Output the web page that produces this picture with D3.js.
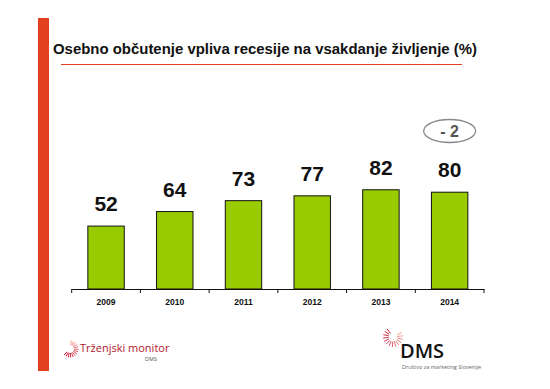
<!DOCTYPE html>
<html>
<head>
<meta charset="utf-8">
<script src="https://cdn.jsdelivr.net/npm/d3@7"></script>
<style>
  body { margin: 0; background: #fff; }
  svg { display: block; font-family: "Liberation Sans", Arial, sans-serif; }
</style>
</head>
<body>
<svg id="chart" width="550" height="389"></svg>
<script>
// data
const years = ["2009", "2010", "2011", "2012", "2013", "2014"];
const values = [52, 64, 73, 77, 82, 80];
const changeLabel = "- 2";
const title = "Osebno občutenje vpliva recesije na vsakdanje življenje (%)";

const svg = d3.select("#chart");

// red side stripe + title
svg.append("rect").attr("x", 38).attr("y", 18).attr("width", 11).attr("height", 353).attr("fill", "#e2401f");
svg.append("text").attr("x", 53).attr("y", 54)
  .attr("font-size", 15.5).attr("font-weight", "bold").attr("fill", "#111")
  .attr("textLength", 424).attr("lengthAdjust", "spacingAndGlyphs")
  .text(title);
svg.append("line").attr("x1", 61).attr("x2", 462).attr("y1", 64.5).attr("y2", 64.5)
  .attr("stroke", "#e2401f").attr("stroke-width", 1.2);

// scales
const x = d3.scaleBand().domain(years).range([71.7, 484]).paddingInner(0.47).paddingOuter(0.235);
const y = d3.scaleLinear().domain([0, 100]).range([289, 168]);

// bars
svg.selectAll("rect.bar").data(values).join("rect")
  .attr("class", "bar")
  .attr("x", (d, i) => x(years[i]))
  .attr("y", d => y(d))
  .attr("width", x.bandwidth())
  .attr("height", d => y(0) - y(d))
  .attr("fill", "#99cc00")
  .attr("stroke", "#111")
  .attr("stroke-width", 1);

// value labels
svg.selectAll("text.val").data(values).join("text")
  .attr("class", "val")
  .attr("x", (d, i) => x(years[i]) + x.bandwidth() / 2)
  .attr("y", d => y(d) - 15)
  .attr("text-anchor", "middle")
  .attr("font-size", 21).attr("font-weight", "bold").attr("fill", "#111")
  .text(d => d);

// x axis with ticks between categories
const axis = d3.axisBottom(x).tickSize(0).tickPadding(10);
const gx = svg.append("g").attr("transform", `translate(0,${y(0)})`).call(axis);
gx.select(".domain").attr("stroke", "#111").attr("stroke-width", 1.2);
gx.selectAll("text").attr("font-size", 8.5).attr("font-weight", "bold").attr("fill", "#111")
  .attr("font-family", "Liberation Sans, Arial, sans-serif");
const step = x.step();
const edges = d3.range(years.length + 1).map(i => 71.7 + i * step);
gx.selectAll("line.sep").data(edges).join("line")
  .attr("class", "sep")
  .attr("x1", d => d).attr("x2", d => d)
  .attr("y1", 0).attr("y2", 4)
  .attr("stroke", "#111").attr("stroke-width", 1);

// change ellipse above last bar
const lastX = x(years[years.length - 1]) + x.bandwidth() / 2;
svg.append("ellipse").attr("cx", lastX).attr("cy", 131).attr("rx", 26).attr("ry", 11.5)
  .attr("fill", "none").attr("stroke", "#888").attr("stroke-width", 1.3);
svg.append("text").attr("x", lastX).attr("y", 137).attr("text-anchor", "middle")
  .attr("font-size", 16).attr("font-weight", "bold").attr("fill", "#555")
  .text(changeLabel);

// dashed ring logo
function ring(cx, cy, r0, r1, a0, a1, n) {
  const g = svg.append("g");
  d3.range(n).forEach(i => {
    const a = a0 + (a1 - a0) * i / (n - 1);
    g.append("line")
      .attr("x1", cx + r0 * Math.cos(a)).attr("y1", cy + r0 * Math.sin(a))
      .attr("x2", cx + r1 * Math.cos(a)).attr("y2", cy + r1 * Math.sin(a))
      .attr("stroke", d3.interpolateRgb("#f4a09a", "#c8102e")(i / (n - 1)))
      .attr("stroke-width", 1);
  });
}

// footer left: Trženjski monitor
ring(70, 349, 4, 8.5, -Math.PI * 0.45, Math.PI * 0.75, 14);
svg.append("text").attr("x", 80).attr("y", 352).attr("font-size", 11)
  .attr("font-family", "Open Sans, sans-serif").attr("fill", "#b0172a")
  .text("Trženjski monitor");
svg.append("text").attr("x", 157).attr("y", 361).attr("text-anchor", "end").attr("font-size", 5.5)
  .attr("font-family", "Open Sans, sans-serif").attr("fill", "#555")
  .text("DMS");

// footer right: DMS
ring(393, 337, 4.5, 10, -Math.PI * 0.15, Math.PI * 0.3 + Math.PI, 14);
svg.append("text").attr("x", 400).attr("y", 358).attr("font-size", 20).attr("font-weight", 600)
  .attr("font-family", "Open Sans, sans-serif").attr("fill", "#111")
  .text("DMS");
svg.append("text").attr("x", 402).attr("y", 369).attr("font-size", 5.5)
  .attr("font-family", "Open Sans, sans-serif").attr("fill", "#666")
  .text("Društvo za marketing Slovenije");
</script>
</body>
</html>
